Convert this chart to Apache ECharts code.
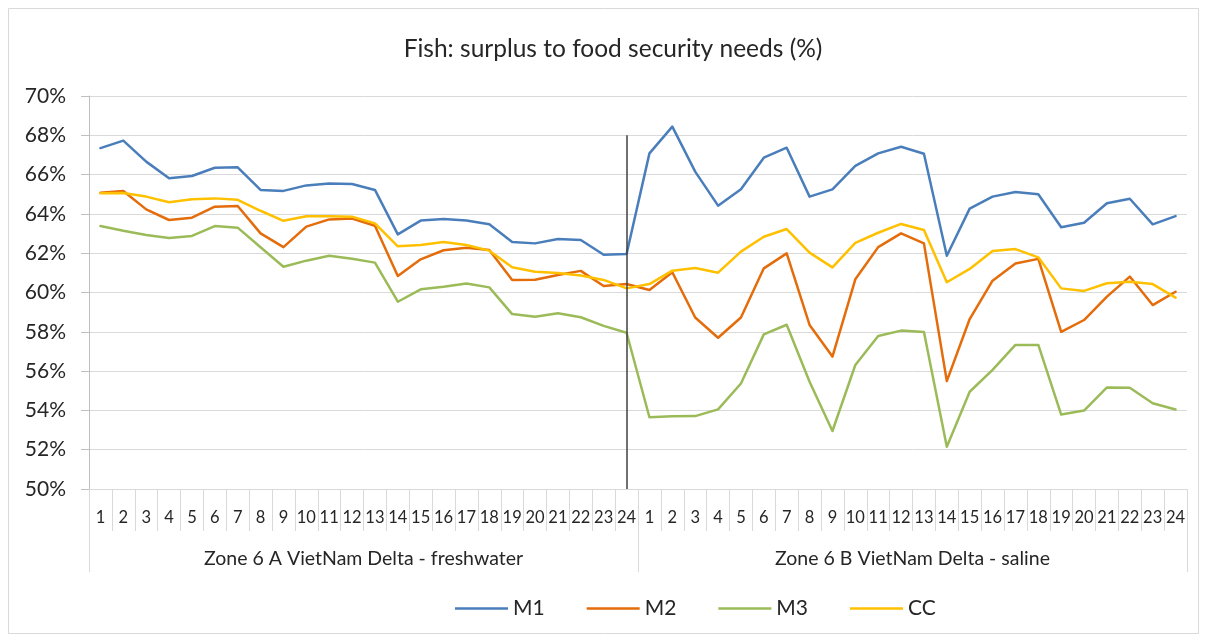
<!DOCTYPE html>
<html>
<head>
<meta charset="utf-8">
<title>Fish: surplus to food security needs (%)</title>
<script src="https://cdn.jsdelivr.net/npm/echarts@6/dist/echarts.min.js"></script>
<style>
  html, body { margin: 0; padding: 0; background: #ffffff; }
  #chart { width: 1207px; height: 642px; }
</style>
</head>
<body>
<div id="chart"></div>
<script>
// Zones (outer category level) and the 24 periods within each zone (inner level)
const zones = ['Zone 6 A VietNam Delta - freshwater', 'Zone 6 B VietNam Delta - saline'];
const periods = ['1','2','3','4','5','6','7','8','9','10','11','12','13','14','15','16','17','18','19','20','21','22','23','24'];

// Surplus to food security needs, in percent: zone A values then zone B values
const m1 = [
  67.35, 67.73, 66.66, 65.81, 65.93, 66.35, 66.37, 65.22, 65.17, 65.45, 65.55, 65.52,
  65.22, 62.96, 63.66, 63.74, 63.66, 63.47, 62.57, 62.50, 62.72, 62.67, 61.92, 61.96,
  67.08, 68.44, 66.15, 64.42, 65.25, 66.86, 67.37, 64.88, 65.25, 66.44, 67.08, 67.42,
  67.06, 61.87, 64.27, 64.88, 65.11, 65.00, 63.32, 63.55, 64.54, 64.77, 63.47, 63.89
];
const m2 = [
  65.08, 65.17, 64.23, 63.69, 63.81, 64.37, 64.40, 63.01, 62.31, 63.35, 63.72, 63.76,
  63.40, 60.84, 61.69, 62.15, 62.28, 62.16, 60.64, 60.65, 60.89, 61.10, 60.33, 60.43,
  60.13, 61.03, 58.73, 57.70, 58.73, 61.23, 61.99, 58.35, 56.74, 60.67, 62.31, 63.01,
  62.50, 55.49, 58.65, 60.60, 61.48, 61.71, 58.00, 58.60, 59.79, 60.81, 59.36, 60.04
];
const m3 = [
  63.38, 63.14, 62.93, 62.77, 62.88, 63.38, 63.30, 62.30, 61.31, 61.62, 61.87, 61.72,
  61.52, 59.53, 60.16, 60.29, 60.46, 60.26, 58.90, 58.77, 58.94, 58.74, 58.30, 57.95,
  53.65, 53.70, 53.71, 54.05, 55.37, 57.87, 58.36, 55.46, 52.95, 56.31, 57.79, 58.06,
  57.99, 52.15, 54.95, 56.06, 57.33, 57.33, 53.79, 53.99, 55.17, 55.15, 54.36, 54.05
];
const cc = [
  65.05, 65.06, 64.88, 64.59, 64.74, 64.79, 64.72, 64.16, 63.65, 63.88, 63.88, 63.86,
  63.52, 62.35, 62.42, 62.57, 62.42, 62.13, 61.28, 61.06, 60.99, 60.86, 60.64, 60.21,
  60.43, 61.11, 61.25, 61.01, 62.08, 62.84, 63.23, 62.03, 61.28, 62.53, 63.04, 63.49,
  63.18, 60.52, 61.20, 62.11, 62.21, 61.79, 60.21, 60.08, 60.47, 60.55, 60.43, 59.74
];

// Divider between the two zones: drawn at the last period of zone A, from 68% down to the axis
const dividerIndex = 23;
const dividerTop = 68;

// Unique category keys (zone index + period) so repeated period names stay distinct
const categories = [];
zones.forEach(function (z, zi) {
  periods.forEach(function (p) { categories.push(zi + '|' + p); });
});

const FONT = 'Lato, "Open Sans", sans-serif';
const TEXT = '#262626';
const GRID_GREY = '#d9d9d9';

const chart = echarts.init(document.getElementById('chart'), null, { renderer: 'canvas' });

function lineSeries(name, data, color, extra) {
  return Object.assign({
    name: name,
    type: 'line',
    data: data,
    symbol: 'none',
    showSymbol: false,
    smooth: false,
    lineStyle: { color: color, width: 2.5, cap: 'round', join: 'round' },
    itemStyle: { color: color },
    emphasis: { disabled: true },
    animation: false
  }, extra || {});
}

chart.setOption({
  animation: false,
  textStyle: { fontFamily: FONT, color: TEXT },
  graphic: [{
    type: 'rect',
    silent: true,
    z: -10,
    shape: { x: 8.5, y: 8.5, width: 1190, height: 625 },
    style: { fill: 'none', stroke: GRID_GREY, lineWidth: 1 }
  }],
  title: {
    text: 'Fish: surplus to food security needs (%)',
    left: 608,
    top: 32,
    textAlign: 'center',
    textStyle: { fontFamily: FONT, fontSize: 24.5, fontWeight: 'normal', color: TEXT }
  },
  legend: {
    data: ['M1', 'M2', 'M3', 'CC'],
    left: 450,
    top: 593,
    icon: 'rect',
    itemWidth: 53,
    itemHeight: 2.5,
    itemGap: 42,
    textStyle: { fontFamily: FONT, fontSize: 21, color: TEXT }
  },
  grid: { left: 89, right: 20, top: 96, bottom: 153, containLabel: false },
  xAxis: [
    {
      type: 'category',
      position: 'bottom',
      data: categories,
      boundaryGap: true,
      axisLine: { show: true, lineStyle: { color: GRID_GREY, width: 1 } },
      axisTick: { show: true, interval: 0, length: 42, lineStyle: { color: GRID_GREY, width: 1 } },
      axisLabel: {
        interval: 0,
        margin: 20,
        fontFamily: FONT,
        fontSize: 16.5,
        color: TEXT,
        formatter: function (v) { return v.split('|')[1]; }
      },
      splitLine: { show: false }
    },
    {
      type: 'category',
      position: 'bottom',
      offset: 42,
      data: zones,
      boundaryGap: true,
      axisLine: { show: false },
      axisTick: { show: true, interval: 0, length: 41, lineStyle: { color: GRID_GREY, width: 1 } },
      axisLabel: { interval: 0, margin: 18, fontFamily: FONT, fontSize: 19.5, color: TEXT },
      splitLine: { show: false }
    }
  ],
  yAxis: {
    type: 'value',
    min: 50,
    max: 70,
    interval: 2,
    axisLine: { show: true, lineStyle: { color: '#bfbfbf', width: 1 } },
    axisTick: { show: true, length: 8, lineStyle: { color: '#bfbfbf' } },
    axisLabel: { margin: 23, fontFamily: FONT, fontSize: 21, color: TEXT, formatter: '{value}%' },
    splitLine: { show: true, lineStyle: { color: GRID_GREY, width: 1 } }
  },
  series: [
    lineSeries('M1', m1, '#4a7ebb', {
      markLine: {
        silent: true,
        symbol: ['none', 'none'],
        animation: false,
        label: { show: false },
        lineStyle: { color: '#404040', width: 1.5, type: 'solid' },
        data: [[{ coord: [dividerIndex, dividerTop] }, { coord: [dividerIndex, 50] }]]
      }
    }),
    lineSeries('M2', m2, '#e46c0a'),
    lineSeries('M3', m3, '#9bbb59'),
    lineSeries('CC', cc, '#ffc000')
  ]
});
</script>
</body>
</html>
